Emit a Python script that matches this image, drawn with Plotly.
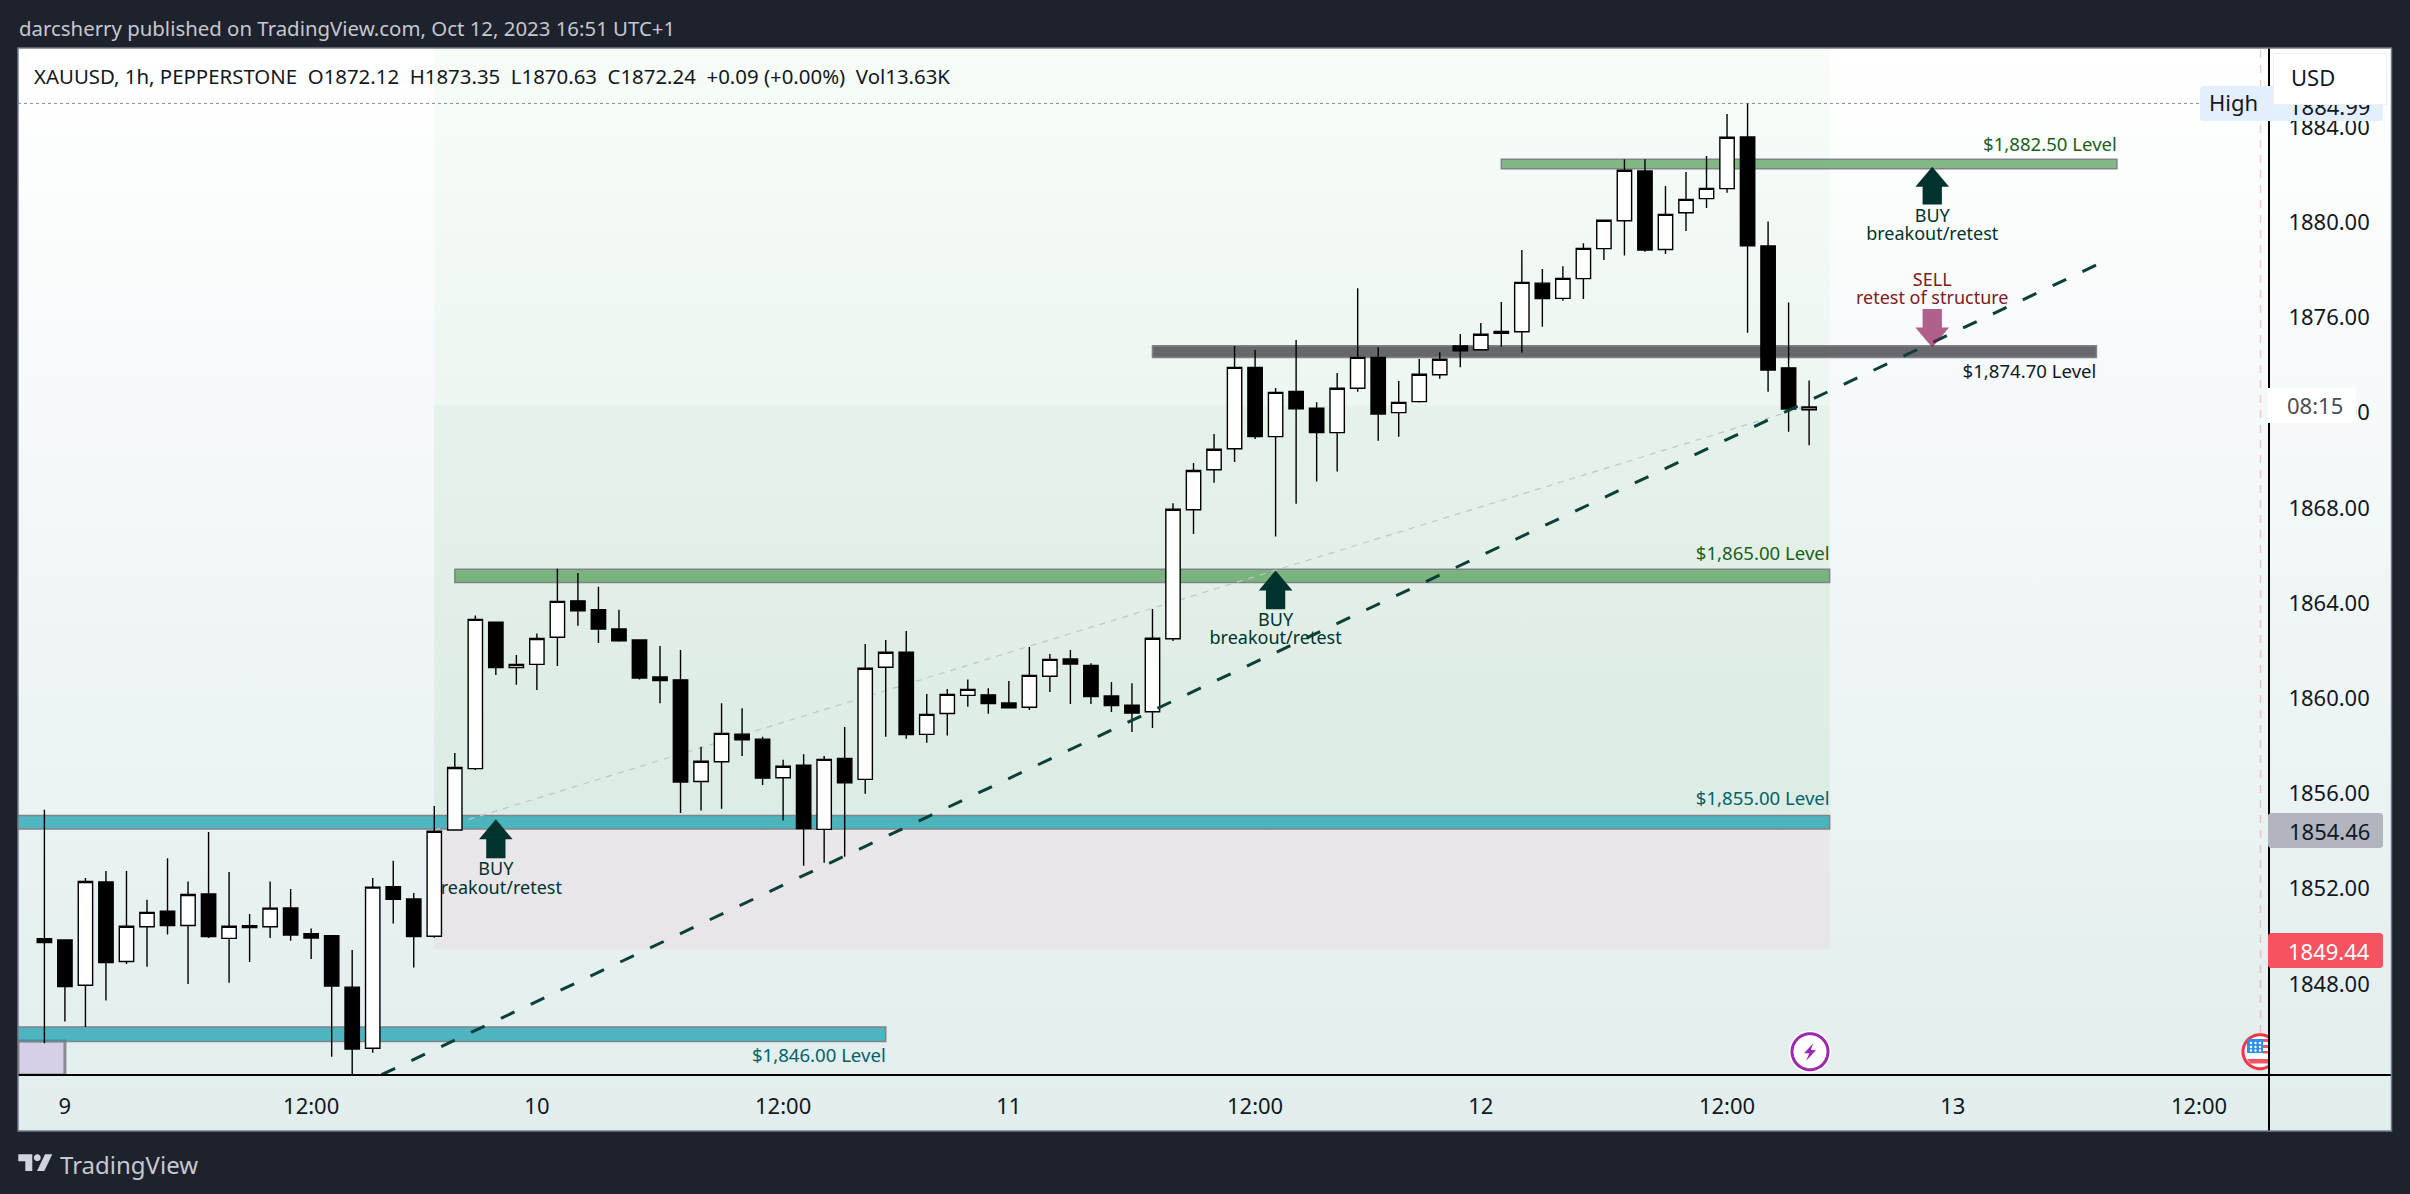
import base64, math
import plotly.graph_objects as go

W, H = 2410, 1194
FONT = "Noto Sans"

# ---------- data ----------
opens = [1849.89,1849.84,1847.94,1852.28,1848.94,1850.40,1851.05,1850.45,1851.77,1849.91,
 1850.44,1850.40,1851.19,1850.10,1850.02,1847.86,1845.29,1852.08,1851.56,1850.00,
 1854.46,1857.04,1863.19,1861.29,1861.42,1862.56,1864.09,1863.72,1862.91,1862.45,
 1860.89,1860.77,1856.50,1857.33,1858.49,1858.28,1856.66,1857.19,1854.49,1857.47,
 1856.59,1861.30,1861.93,1858.48,1859.36,1860.12,1860.14,1859.80,1859.62,1860.92,
 1861.65,1861.38,1860.09,1859.71,1859.43,1862.50,1867.92,1869.60,1870.48,1873.90,
 1870.99,1872.89,1872.18,1871.16,1873.02,1874.32,1872.00,1872.46,1873.59,1874.80,
 1874.64,1875.33,1875.40,1877.44,1876.80,1877.63,1878.89,1880.06,1882.15,1878.85,
 1880.40,1880.99,1881.41,1883.58,1879.00,1873.88,1872.12]
closes = [1849.73,1847.88,1852.30,1848.89,1850.42,1851.00,1850.45,1851.75,1849.99,1850.42,
 1850.36,1851.18,1850.05,1849.92,1847.91,1845.26,1852.06,1851.55,1849.99,1854.41,
 1857.09,1863.31,1861.29,1861.42,1862.51,1864.07,1863.67,1862.91,1862.41,1860.85,
 1860.74,1856.48,1857.35,1858.52,1858.25,1856.64,1857.14,1854.52,1857.43,1856.45,
 1861.26,1861.93,1858.47,1859.32,1860.16,1860.37,1859.77,1859.60,1860.96,1861.63,
 1861.44,1860.07,1859.69,1859.38,1862.52,1867.94,1869.57,1870.46,1873.90,1870.99,
 1872.85,1872.16,1871.16,1873.02,1874.32,1871.94,1872.43,1873.61,1874.24,1874.60,
 1875.29,1875.41,1877.47,1876.79,1877.64,1878.90,1880.08,1882.18,1878.83,1880.33,
 1880.96,1881.42,1883.57,1879.01,1873.79,1872.15,1872.24]
highs = [1855.31,1849.84,1852.45,1852.74,1852.74,1851.53,1853.28,1852.30,1854.38,1852.70,
 1850.93,1852.30,1851.98,1850.32,1850.02,1849.42,1852.45,1853.17,1851.82,1855.47,
 1857.70,1863.47,1863.19,1861.82,1862.72,1865.44,1865.26,1864.68,1863.72,1862.48,
 1862.19,1862.03,1857.96,1859.79,1859.58,1858.38,1857.41,1857.64,1857.57,1858.79,
 1862.28,1862.45,1862.82,1860.18,1860.39,1860.79,1860.42,1860.72,1862.15,1861.86,
 1862.03,1861.47,1860.68,1860.63,1863.75,1868.19,1869.88,1871.10,1874.80,1874.63,
 1873.03,1875.05,1872.44,1873.66,1877.23,1874.75,1873.33,1874.25,1874.54,1875.30,
 1875.76,1876.65,1878.83,1878.03,1878.15,1879.12,1880.08,1882.65,1882.65,1881.52,
 1882.11,1882.78,1884.55,1884.99,1880.03,1876.63,1873.35]
lows = [1845.50,1846.42,1846.18,1847.30,1848.83,1848.72,1850.07,1847.99,1849.92,1848.04,
 1848.92,1849.92,1849.81,1849.04,1844.94,1844.10,1845.10,1850.53,1848.68,1849.94,
 1854.46,1856.98,1860.98,1860.56,1860.34,1861.35,1863.04,1862.32,1862.37,1860.79,
 1859.79,1855.18,1855.28,1855.36,1857.57,1856.35,1854.86,1852.96,1853.09,1853.34,
 1855.99,1858.38,1858.30,1858.13,1858.43,1859.64,1859.35,1859.60,1859.50,1860.26,
 1859.76,1859.76,1859.42,1858.58,1858.75,1862.40,1866.90,1869.05,1869.92,1870.89,
 1866.79,1868.17,1869.10,1869.52,1872.88,1870.82,1870.99,1872.42,1873.42,1873.91,
 1874.64,1874.77,1874.52,1875.61,1876.70,1876.77,1878.41,1878.60,1878.76,1878.66,
 1879.63,1880.60,1881.24,1875.36,1872.88,1871.20,1870.63]

x_tick_bars = [1, 13, 24, 36, 47, 59, 70, 82, 93, 105]
x_tick_text = ["9", "12:00", "10", "12:00", "11", "12:00", "12", "12:00", "13", "12:00"]
y_ticks = [1848, 1852, 1856, 1860, 1864, 1868, 1872, 1876, 1880, 1884]
y_tick_text = ["1848.00", "1852.00", "1856.00", "1860.00", "1864.00", "1868.00",
               "1872.00", "1876.00", "1880.00", "1884.00"]

# level bands: x from, x to, lower price, upper price, fill
level_x0 = [-2, -2, 20, 54, 71]
level_x1 = [41, 87, 87, 100, 101]
level_lo = [1845.58, 1854.50, 1864.86, 1874.32, 1882.25]
level_hi = [1846.18, 1855.07, 1865.42, 1874.81, 1882.64]
level_fill = ["rgba(0,151,167,0.66)", "rgba(0,151,167,0.66)", "rgba(56,142,60,0.62)",
              "rgba(66,66,72,0.80)", "rgba(56,142,60,0.62)"]

level_text = ["$1,846.00 Level", "$1,855.00 Level", "$1,865.00 Level", "$1,874.70 Level", "$1,882.50 Level"]
level_text_x = [41, 87, 87, 100, 101]
level_text_y = [1844.91, 1855.70, 1866.02, 1873.63, 1883.18]
level_text_col = ["#00626b", "#00626b", "#1b5e20", "#131722", "#1b5e20"]

note_text = ["BUY", "breakout/retest", "BUY", "breakout/retest", "BUY", "breakout/retest",
             "SELL", "retest of structure"]
note_x = [22, 22, 60, 60, 92, 92, 92, 92]
note_y = [1852.76, 1851.97, 1863.23, 1862.47, 1880.20, 1879.44, 1877.51, 1876.76]
note_col = ["#00332e"] * 6 + ["#801922"] * 2

arrow_x = [22, 60, 92]
arrow_tip = [1854.91, 1865.37, 1882.33]
arrow_tail = [1853.28, 1863.74, 1880.74]
sell_x, sell_tip, sell_tail = 92, 1874.74, 1876.35

trend_x, trend_y = [16.43, 100.0], [1844.18, 1878.2]
position_x, position_y = [19, 86], [1854.46, 1872.3]
entry_price, stop_price, target_price, high_price = 1854.46, 1849.44, 1872.3, 1884.99
pos_x0, pos_x1 = 19, 87
box_x1, box_hi = 1, 1845.6
event_x = 108

# ---------- pixel frame ----------
LEFT, RIGHT, TOP, BOTTOM = 18, 2268, 48, 1075
FR, FB = 2391.5, 1131
PX_PER_BAR, X0 = 20.52, 44.4
PX_PER_USD = 23.8
xr = [(LEFT - X0) / PX_PER_BAR, (RIGHT - X0) / PX_PER_BAR]
yr = [1884 - (BOTTOM - 127) / PX_PER_USD, 1884 + (127 - TOP) / PX_PER_USD]

def fx(p): return p / W
def fy(p): return 1 - p / H
def poly(pts):
    return "M" + "L".join(f"{fx(a):.6f},{fy(b):.6f}" for a, b in pts) + "Z"
def rrect(x0, y0, x1, y1, r=3):
    pts = []
    for cx, cy, a0 in ((x1-r, y0+r, -90), (x1-r, y1-r, 0), (x0+r, y1-r, 90), (x0+r, y0+r, 180)):
        for k in range(5):
            a = math.radians(a0 + k * 22.5)
            pts.append((cx + r*math.cos(a), cy + r*math.sin(a)))
    return poly(pts)
def disc(cx, cy, r, xmax=None):
    pts = []
    for k in range(72):
        a = math.radians(k * 5)
        px = cx + r*math.cos(a)
        pts.append((min(px, xmax) if xmax else px, cy + r*math.sin(a)))
    return poly(pts)
def pshape(path, fill, line=None, lw=0):
    return dict(type="path", xref="paper", yref="paper", path=path, fillcolor=fill,
                line=dict(color=line or "rgba(0,0,0,0)", width=lw), layer="above")
def prect(x0, y0, x1, y1, fill="rgba(0,0,0,0)", line=None, lw=0):
    return dict(type="rect", xref="paper", yref="paper", x0=fx(x0), x1=fx(x1), y0=fy(y1), y1=fy(y0),
                fillcolor=fill, line=dict(color=line or "rgba(0,0,0,0)", width=lw), layer="above")
def ptext(txt, x, y, size=22, col="#131722", anchor="center", **kw):
    return dict(text=txt, x=fx(x), y=fy(y), xref="paper", yref="paper", showarrow=False,
                xanchor=anchor, yanchor="middle", font=dict(family=FONT, size=size, color=col), **kw)

svg = ('<svg xmlns="http://www.w3.org/2000/svg" width="100" height="100" preserveAspectRatio="none">'
       '<defs><linearGradient id="g" x1="0" y1="0" x2="0" y2="1">'
       '<stop offset="0" stop-color="#ffffff"/><stop offset="1" stop-color="#e2edee"/>'
       '</linearGradient></defs><rect width="100" height="100" fill="url(#g)"/></svg>')
src = "data:image/svg+xml;base64," + base64.b64encode(svg.encode()).decode()

fig = go.Figure()

# lower subplot: fine lines and text that the candles cover
fig.add_trace(go.Scatter(x=[xr[0], 105.05], y=[high_price, high_price], mode="lines",
                         line=dict(color="#8a8d94", width=1, dash="dot"), hoverinfo="skip"))
fig.add_trace(go.Scatter(x=[event_x, event_x], y=[1845.93, yr[1]], mode="lines",
                         line=dict(color="rgba(242,54,69,0.25)", width=1.5, dash="8px,7px"), hoverinfo="skip"))
fig.add_trace(go.Scatter(x=position_x, y=position_y, mode="lines",
                         line=dict(color="#bfc5c8", width=1.2, dash="6px,6px"), hoverinfo="skip"))
fig.add_trace(go.Scatter(x=note_x, y=note_y, mode="text", text=note_text, textposition="middle center",
                         textfont=dict(family=FONT, size=18, color=note_col), hoverinfo="skip"))
fig.add_trace(go.Scatter(x=level_text_x, y=level_text_y, mode="text", text=level_text, textposition="middle left",
                         textfont=dict(family=FONT, size=18.6, color=level_text_col), hoverinfo="skip",
                         cliponaxis=False))

# overlay subplot: candles, then trend line and arrows
fig.add_trace(go.Candlestick(x=list(range(len(opens))), open=opens, high=highs, low=lows, close=closes,
                             xaxis="x2", yaxis="y2", whiskerwidth=0, hoverinfo="skip",
                             increasing=dict(line=dict(color="#000000", width=1.4), fillcolor="#ffffff"),
                             decreasing=dict(line=dict(color="#000000", width=1.4), fillcolor="#000000")))
fig.add_trace(go.Scatter(x=trend_x, y=trend_y, mode="lines", xaxis="x2", yaxis="y2", hoverinfo="skip",
                         line=dict(color="#0b3f38", width=3, dash="15px,18px")))
def arrow(c, tip, tail, col):
    s = 1 if tip > tail else -1
    neck = tip - s * 0.84
    fig.add_trace(go.Scatter(
        x=[c, c+.82, c+.47, c+.47, c-.47, c-.47, c-.82, c],
        y=[tip, neck, neck, tail, tail, neck, neck, tip],
        mode="lines", fill="toself", fillcolor=col, line=dict(width=0, color=col),
        xaxis="x2", yaxis="y2", hoverinfo="skip"))
for c, t, b in zip(arrow_x, arrow_tip, arrow_tail):
    arrow(c, t, b, "#00332e")
arrow(sell_x, sell_tip, sell_tail, "rgba(136,14,79,0.65)")

# data-bound shapes underneath everything
shapes = [
    dict(type="rect", xref="x", yref="y", x0=pos_x0, x1=pos_x1, y0=target_price, y1=yr[1] + 5,
         fillcolor="rgba(76,175,80,0.045)", line_width=0, layer="below"),
    dict(type="rect", xref="x", yref="y", x0=pos_x0, x1=pos_x1, y0=entry_price, y1=target_price,
         fillcolor="rgba(76,175,80,0.09)", line_width=0, layer="below"),
    dict(type="rect", xref="x", yref="y", x0=pos_x0, x1=pos_x1, y0=stop_price, y1=entry_price,
         fillcolor="rgba(233,30,99,0.05)", line_width=0, layer="below"),
    dict(type="rect", xref="x", yref="y", x0=xr[0], x1=box_x1, y0=yr[0], y1=box_hi,
         fillcolor="#d5d0e8", line=dict(color="#8a8a92", width=3), layer="below"),
]
for a, b, lo, hi, col in zip(level_x0, level_x1, level_lo, level_hi, level_fill):
    shapes.append(dict(type="rect", xref="x", yref="y", x0=a, x1=b, y0=lo, y1=hi, fillcolor=col,
                       line=dict(color="#808488", width=1.5), layer="below"))

# chrome drawn above the plot
shapes += [
    prect(RIGHT, TOP, RIGHT + 2, FB, fill="#000000"),
    prect(LEFT, BOTTOM - 1, FR, BOTTOM + 1, fill="#000000"),
    prect(LEFT, TOP, FR, FB, line="#787b86", lw=1.5),
    pshape(rrect(2200, 86, 2383, 121), "#e3effd"),
    pshape(rrect(RIGHT, 813, 2383, 848), "#b2b5be"),
    pshape(rrect(RIGHT, 933, 2383, 968), "#f7525f"),
    prect(RIGHT, 388, 2356, 423, fill="#ffffff"),
    # lightning marker
    pshape(disc(1810, 1051.7, 21), "#ffffff"),
    pshape(disc(1810, 1051.7, 18), "#ffffff", "#9c27b0", 3),
    pshape(poly([(1813.3, 1043.3), (1804, 1053.3), (1809.3, 1053.3), (1806, 1061),
                 (1816, 1050), (1810.7, 1050)]), "#9c27b0"),
    # US flag marker
    pshape(disc(2260, 1051.7, 18.5, RIGHT), "#f23645"),
    pshape(disc(2260, 1051.7, 15.5, RIGHT), "#ffffff"),
    prect(2247, 1039, 2263, 1053, fill="#2d8fe6"),
    prect(2263, 1039, RIGHT, 1042, fill="#f7525f"),
    prect(2263, 1045, RIGHT, 1048, fill="#f7525f"),
    prect(2263, 1051, RIGHT, 1053.5, fill="#f7525f"),
    pshape(poly([(2247, 1059), (RIGHT, 1059), (RIGHT, 1063.5), (2250, 1063.5)]), "#f7525f"),
    # TradingView logo
    pshape(poly([(18.3, 1154.3), (32.3, 1154.3), (32.3, 1171), (25.3, 1171), (25.3, 1161.3), (18.3, 1161.3)]), "#d1d4dc"),
    pshape(disc(37.3, 1157.7, 3.4), "#d1d4dc"),
    pshape(poly([(45, 1154.3), (52.3, 1154.3), (44.3, 1171), (37, 1171)]), "#d1d4dc"),
]
for px, py in [(2251, 1043), (2255.5, 1043), (2260, 1043), (2251, 1047), (2255.5, 1047), (2260, 1047),
               (2251, 1050.5), (2255.5, 1050.5), (2260, 1050.5)]:
    shapes.append(pshape(disc(px, py, 1.2), "#ffffff"))

nb = "\u00a0"
legend_line = (f"XAUUSD, 1h, PEPPERSTONE{nb}{nb}O1872.12{nb}{nb}H1873.35{nb}{nb}L1870.63{nb}{nb}"
               f"C1872.24{nb}{nb}+0.09 (+0.00%){nb}{nb}Vol13.63K")
annotations = [
    ptext("darcsherry published on TradingView.com, Oct 12, 2023 16:51 UTC+1", 17, 28, size=20.4, col="#c5c8d0", anchor="left"),
    ptext(legend_line, 32, 76, size=20.4, anchor="left"),
    ptext("High", 2233, 102, size=22),
    ptext("1884.99", 2329, 106, size=22),
    dict(text=" ", x=fx(2330), y=fy(79), xref="paper", yref="paper", showarrow=False, width=110, height=48,
         xanchor="center", yanchor="middle",
         bgcolor="#ffffff", bordercolor="#eef0f3", borderwidth=1, font=dict(size=14)),
    ptext("USD", 2312.5, 77, size=22),
    ptext("08:15", 2315, 405, size=22, col="#4a4e58"),
    ptext("1854.46", 2329, 830.5, size=22),
    ptext("1849.44", 2329, 950.5, size=22, col="#ffffff"),
    ptext("TradingView", 58, 1164, size=24, col="#c5c8d0", anchor="left"),
]

fig.update_layout(
    width=W, height=H, margin=dict(l=0, r=0, t=0, b=0), autosize=False,
    paper_bgcolor="#1e222d", plot_bgcolor="rgba(0,0,0,0)", showlegend=False,
    hovermode=False, shapes=shapes, annotations=annotations, boxgap=0.3, boxgroupgap=0,
    images=[dict(source=src, xref="paper", yref="paper", x=fx(LEFT), y=fy(TOP),
                 sizex=(FR - LEFT) / W, sizey=(FB - TOP) / H, sizing="stretch",
                 xanchor="left", yanchor="top", layer="below")],
    xaxis=dict(domain=[fx(LEFT), fx(RIGHT)], range=xr, anchor="y", showgrid=False, zeroline=False,
               tickmode="array", tickvals=x_tick_bars, ticktext=x_tick_text,
               tickfont=dict(family=FONT, size=22, color="#131722"), ticks="outside", ticklen=12,
               tickcolor="rgba(0,0,0,0)", tickangle=0, automargin=False),
    yaxis=dict(domain=[fy(BOTTOM), fy(TOP)], range=yr, anchor="x", side="right", showgrid=False, zeroline=False,
               tickmode="array", tickvals=y_ticks, ticktext=y_tick_text,
               tickfont=dict(family=FONT, size=22, color="#131722"), ticks="outside", ticklen=15,
               tickcolor="rgba(0,0,0,0)", automargin=False),
    xaxis2=dict(overlaying="x", range=xr, domain=[fx(LEFT), fx(RIGHT)], anchor="y2", visible=False,
                rangeslider=dict(visible=False)),
    yaxis2=dict(overlaying="y", range=yr, domain=[fy(BOTTOM), fy(TOP)], anchor="x2", visible=False),
)

fig.write_html("out.html", config=dict(displayModeBar=False),
               post_script="document.body.style.margin='0';document.body.style.overflow='hidden';")
